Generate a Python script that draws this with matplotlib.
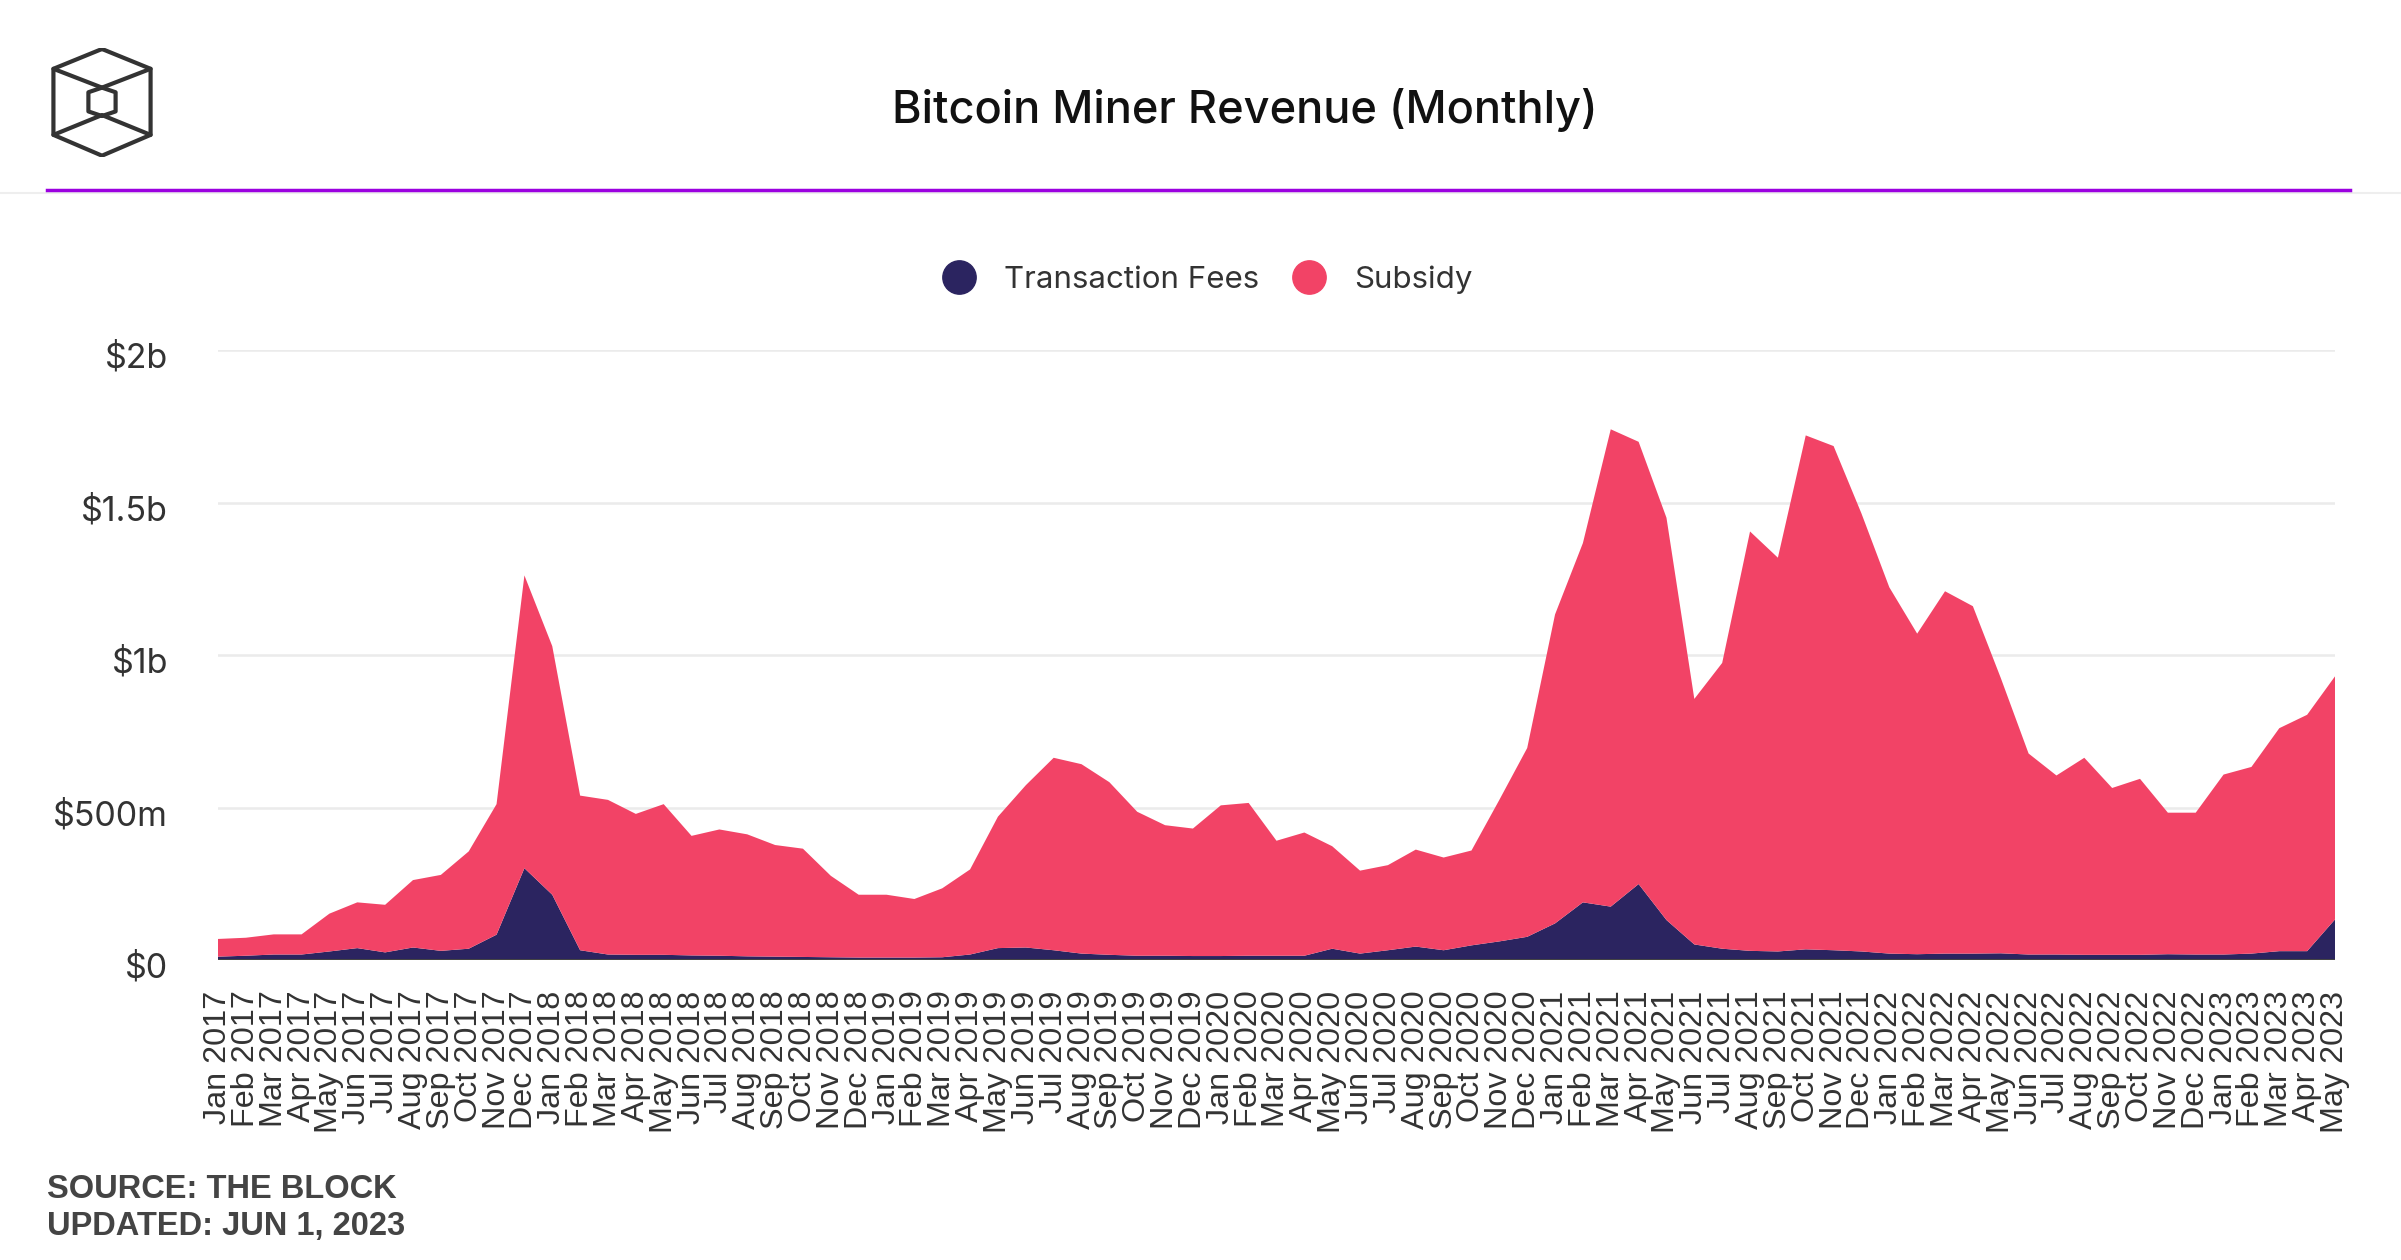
import matplotlib
matplotlib.use("Agg")
import matplotlib.pyplot as plt
import matplotlib.transforms as mtransforms
from matplotlib.lines import Line2D
import pandas as pd


# monthly values in $ millions, Jan 2017 .. May 2023
MONTHS = pd.date_range("2017-01-01", "2023-05-01", freq="MS").strftime("%b %Y").tolist()

FEES = [
    11, 14, 18, 18, 28, 39, 25, 41, 30, 37, 83, 301,
    214, 32, 18, 17, 17, 15, 14, 12, 11, 10, 9, 8,
    8, 8, 9, 18, 39, 41, 32, 21, 17, 14, 14, 13,
    13, 14, 14, 14, 37, 21, 32, 44, 32, 48, 61, 76,
    120, 189, 175, 249, 131, 51, 37, 30, 28, 35, 32, 28,
    21, 19, 21, 21, 22, 18, 18, 17, 17, 17, 19, 18,
    18, 21, 29, 29, 133,
]

SUBSIDY = [
    58, 59, 66, 66, 124, 150, 156, 221, 249, 319, 428, 960,
    815, 507, 507, 462, 494, 392, 414, 400, 366, 355, 267, 206,
    206, 192, 226, 279, 431, 532, 631, 621, 566, 472, 428, 418,
    494, 501, 377, 404, 336, 272, 279, 318, 304, 311, 464, 619,
    1013, 1178, 1565, 1450, 1319, 805, 937, 1375, 1291, 1685, 1653, 1436,
    1201, 1051, 1188, 1139, 903, 659, 587, 646, 547, 577, 464, 465,
    590, 612, 731, 775, 797,
]

SERIES = ["Transaction Fees", "Subsidy"]
Y_TICKS = [0, 500, 1000, 1500, 2000]
Y_LABELS = ["$0", "$500m", "$1b", "$1.5b", "$2b"]

TITLE = "Bitcoin Miner Revenue (Monthly)"
SOURCE = "SOURCE: THE BLOCK"
UPDATED = "UPDATED: JUN 1, 2023"

FEE_COLOR = "#2b2460"
SUB_COLOR = "#f24366"
TEXT_FONT = ["Inter", "DejaVu Sans"]
TICK_FONT = ["Liberation Sans", "DejaVu Sans"]

W, H = 2401, 1260


def fx(px):
    return px / W


def fy(py):
    return 1 - py / H


def draw_logo(fig):
    lax = fig.add_axes([fx(51), fy(157), fx(153) - fx(51), (157 - 48) / H])
    lax.set_xlim(95, 305)
    lax.set_ylim(472, 142)
    lax.axis("off")
    kw = dict(color="#333333", lw=3, solid_capstyle="round", solid_joinstyle="round")
    outer_x = [200, 300, 300, 200, 100, 100, 200]
    outer_y = [145, 205, 405, 468, 405, 205, 145]
    lax.plot(outer_x, outer_y, **kw)
    lax.plot([100, 200, 300], [205, 262, 205], **kw)
    lax.plot([100, 200, 300], [405, 345, 405], **kw)
    inner_x = [200, 228, 228, 200, 172, 172, 200]
    inner_y = [262, 276, 334, 348, 334, 276, 262]
    lax.plot(inner_x, inner_y, **kw)


def main():
    fig = plt.figure(figsize=(W / 100, H / 100), dpi=100)

    ax = fig.add_axes([fx(218), fy(960), fx(2335) - fx(218), (960 - 350) / H])
    x = list(range(len(MONTHS)))
    ax.stackplot(x, FEES, SUBSIDY, colors=[FEE_COLOR, SUB_COLOR], labels=SERIES, linewidth=0)

    ax.set_xlim(0, len(MONTHS) - 1)
    ax.set_ylim(0, 2000)
    ax.grid(axis="y", color="#ebebeb", lw=1.8)
    ax.set_axisbelow(True)
    for s in ax.spines.values():
        s.set_visible(False)
    ax.axhline(0, color="#444444", lw=2.2, zorder=5)

    ax.set_xticks(x)
    ax.set_xticklabels(MONTHS, rotation=90, fontfamily=TICK_FONT, fontsize=23.3, color="#333333")
    ax.tick_params(axis="x", length=0, pad=22)
    ax.tick_params(axis="y", length=0, pad=36)

    ax.set_yticks(Y_TICKS)
    ax.set_yticklabels(Y_LABELS, fontfamily=TEXT_FONT, fontsize=24.5, color="#333333")
    # labels sit a touch below their gridlines in the original
    shift = mtransforms.ScaledTranslation(0, -5 / 100, fig.dpi_scale_trans)
    for lab in ax.get_yticklabels():
        lab.set_transform(lab.get_transform() + shift)

    # legend
    handles = [
        Line2D([], [], marker="o", ls="", markersize=24, markerfacecolor=c, markeredgecolor=c)
        for c in (FEE_COLOR, SUB_COLOR)
    ]
    fig.legend(handles, SERIES, loc="center", bbox_to_anchor=(fx(1200), fy(280)), ncol=2,
               frameon=False, prop={"family": TEXT_FONT, "size": 22.5}, labelcolor="#333333",
               handletextpad=0.45, columnspacing=0.6)

    # header
    fig.text(fx(1245), fy(110), TITLE, ha="center", va="center", fontsize=32.5,
             fontfamily=TEXT_FONT, fontweight="medium", color="#111111")
    draw_logo(fig)
    fig.add_artist(Line2D([0, 1], [fy(193), fy(193)], color="#eeeeee", lw=1.5))
    fig.add_artist(Line2D([fx(47), fx(2350)], [fy(190), fy(190)], color="#9b00e0", lw=2.5))

    # footer
    fig.text(fx(47), fy(1189), SOURCE, ha="left", va="center", fontsize=23.5,
             fontweight="bold", fontfamily=TICK_FONT, color="#444444")
    fig.text(fx(47), fy(1227), UPDATED, ha="left", va="center", fontsize=23.5,
             fontweight="bold", fontfamily=TICK_FONT, color="#444444")

    fig.savefig("out.png", dpi=100)


if __name__ == "__main__":
    main()
